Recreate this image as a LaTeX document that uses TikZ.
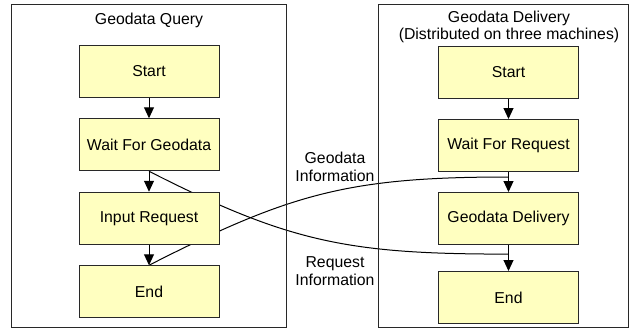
\documentclass[tikz,border=0pt]{standalone}
\usepackage{fontspec}
\setmainfont{Liberation Sans}
\usepackage{tikz}
\usetikzlibrary{matrix,backgrounds}
\usetikzlibrary{arrows.meta}
\usetikzlibrary{calc}
\definecolor{boxyellow}{RGB}{255,255,192}
\definecolor{framegray}{RGB}{40,40,40}

\begin{document}
\begin{tikzpicture}[x=1pt, y=-1pt, font=\fontsize{15.8}{18}\selectfont,
	stepbox/.style={draw=framegray, line width=1pt, fill=boxyellow, minimum width=140pt, minimum height=52pt, inner sep=2pt},
	frame/.style={draw=framegray, line width=1pt, minimum height=322pt, inner sep=0pt},
	flow/.style={-{Triangle[length=11pt,width=10pt]}, line width=1pt}]
\useasboundingbox (0,0) rectangle (629,329);
\node (qframe) [frame, minimum width=275pt] at (148.5,166) {};
\node (dframe) [frame, minimum width=250pt] at (503,166) {};
\node (qtitle) at (149,20) {Geodata Query};
\node (dtitle) [align=center, font=\fontsize{15.8}{16.5}\selectfont] at (509,27) {Geodata Delivery\\(Distributed on three machines)};
\matrix (q) [matrix of nodes, row sep=20.5pt, nodes={stepbox}] at (149,181.5)
{
	Start \\
	Wait For Geodata \\
	Input Request \\
	End \\
};
\matrix (d) [matrix of nodes, row sep=20pt, nodes={stepbox}] at (508.5,185)
{
	Start \\
	Wait For Request \\
	Geodata Delivery \\[6pt]
	End \\
};
\path[flow]
(q-1-1) edge (q-2-1)
(q-2-1) edge (q-3-1)
(q-3-1) edge (q-4-1)
(d-1-1) edge (d-2-1)
(d-2-1) edge (d-3-1)
(d-3-1) edge (d-4-1);
\coordinate (geoin) at ($(d-2-1.south)!0.25!(d-3-1.north)$);
\coordinate (reqin) at ($(d-3-1.south)!0.35!(d-4-1.north)$);
\begin{scope}[on background layer]
\path[line width=1pt]
(q-2-1.south) edge[out=-27, in=180, looseness=1.1] (reqin)
(q-4-1.north) edge[out=27, in=180, looseness=1.1] (geoin);
\end{scope}
\node (geolabel) [align=center] at (335,167) {Geodata\\Information};
\node (reqlabel) [align=center] at (335,271) {Request\\Information};
\end{tikzpicture}
\end{document}
